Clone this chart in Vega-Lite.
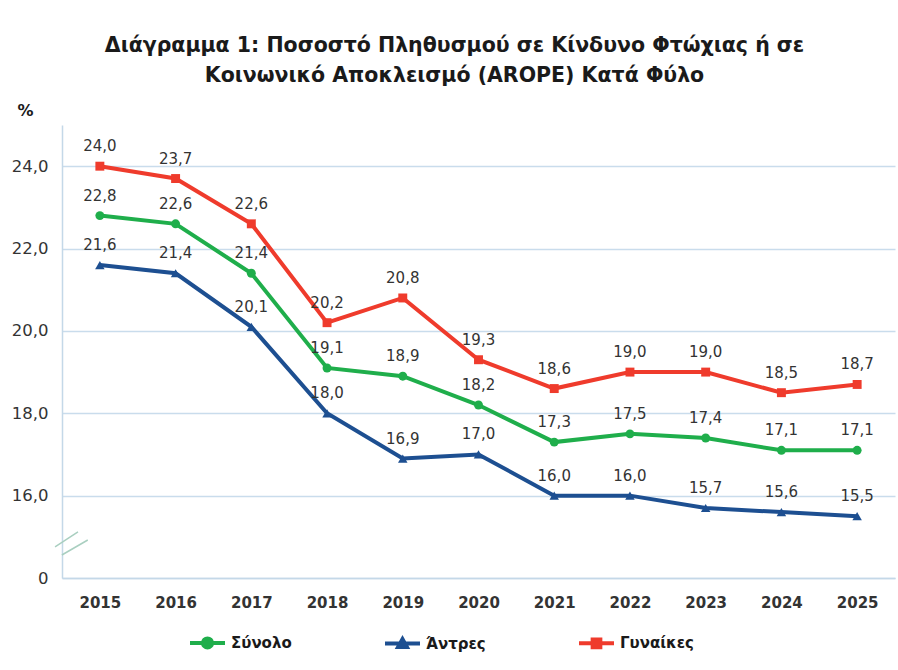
{
  "$schema": "https://vega.github.io/schema/vega-lite/v6.json",
  "width": 833,
  "height": 453,
  "autosize": {"type": "none"},
  "padding": {"left": 62, "top": 125, "right": 3, "bottom": 92},
  "background": "white",
  "config": {
    "view": {"stroke": null},
    "font": "DejaVu Sans",
    "locale": {"number": {"decimal": ",", "thousands": ".", "grouping": [3], "currency": ["", " €"]}}
  },
  "title": {
    "text": ["Διάγραμμα 1: Ποσοστό Πληθυσμού σε Κίνδυνο Φτώχιας ή σε", "Κοινωνικό Αποκλεισμό (AROPE) Κατά Φύλο"],
    "font": "DejaVu Sans",
    "fontSize": 20.5,
    "fontWeight": "bold",
    "color": "#1a1a1a",
    "lineHeight": 30,
    "anchor": "middle",
    "dx": -24,
    "offset": 16
  },
  "datasets": {
    "series": [
      {"year": "2015", "group": "Σύνολο", "value": 22.8},
      {"year": "2016", "group": "Σύνολο", "value": 22.6},
      {"year": "2017", "group": "Σύνολο", "value": 21.4},
      {"year": "2018", "group": "Σύνολο", "value": 19.1},
      {"year": "2019", "group": "Σύνολο", "value": 18.9},
      {"year": "2020", "group": "Σύνολο", "value": 18.2},
      {"year": "2021", "group": "Σύνολο", "value": 17.3},
      {"year": "2022", "group": "Σύνολο", "value": 17.5},
      {"year": "2023", "group": "Σύνολο", "value": 17.4},
      {"year": "2024", "group": "Σύνολο", "value": 17.1},
      {"year": "2025", "group": "Σύνολο", "value": 17.1},
      {"year": "2015", "group": "Άντρες", "value": 21.6},
      {"year": "2016", "group": "Άντρες", "value": 21.4},
      {"year": "2017", "group": "Άντρες", "value": 20.1},
      {"year": "2018", "group": "Άντρες", "value": 18.0},
      {"year": "2019", "group": "Άντρες", "value": 16.9},
      {"year": "2020", "group": "Άντρες", "value": 17.0},
      {"year": "2021", "group": "Άντρες", "value": 16.0},
      {"year": "2022", "group": "Άντρες", "value": 16.0},
      {"year": "2023", "group": "Άντρες", "value": 15.7},
      {"year": "2024", "group": "Άντρες", "value": 15.6},
      {"year": "2025", "group": "Άντρες", "value": 15.5},
      {"year": "2015", "group": "Γυναίκες", "value": 24.0},
      {"year": "2016", "group": "Γυναίκες", "value": 23.7},
      {"year": "2017", "group": "Γυναίκες", "value": 22.6},
      {"year": "2018", "group": "Γυναίκες", "value": 20.2},
      {"year": "2019", "group": "Γυναίκες", "value": 20.8},
      {"year": "2020", "group": "Γυναίκες", "value": 19.3},
      {"year": "2021", "group": "Γυναίκες", "value": 18.6},
      {"year": "2022", "group": "Γυναίκες", "value": 19.0},
      {"year": "2023", "group": "Γυναίκες", "value": 19.0},
      {"year": "2024", "group": "Γυναίκες", "value": 18.5},
      {"year": "2025", "group": "Γυναίκες", "value": 18.7}
    ]
  },
  "layer": [
    {
      "data": {"name": "series"},
      "mark": {"type": "line", "strokeWidth": 4},
      "encoding": {
        "x": {
          "field": "year", "type": "ordinal",
          "scale": {"type": "point", "padding": 0.5},
          "axis": {
            "title": null, "labelAngle": 0, "ticks": false,
            "domainColor": "#c4d8e8", "domainWidth": 1.5,
            "labelFont": "DejaVu Sans", "labelFontSize": 15, "labelFontWeight": "bold",
            "labelColor": "#333333", "labelPadding": 17, "grid": false
          }
        },
        "y": {
          "field": "value", "type": "quantitative",
          "scale": {"domain": [14, 25], "nice": false, "zero": false},
          "axis": {
            "values": [14, 16, 18, 20, 22, 24],
            "labelExpr": "datum.value == 14 ? '0' : format(datum.value, '.1f')",
            "ticks": false, "domainColor": "#c4d8e8", "domainWidth": 1.5,
            "grid": true, "gridColor": "#c9dcec", "gridWidth": 1.5,
            "labelFont": "DejaVu Sans", "labelFontSize": 16.5, "labelColor": "#333333",
            "labelPadding": 14,
            "title": "%", "titleAngle": 0, "titleFont": "DejaVu Sans", "titleFontSize": 16,
            "titleFontWeight": "bold", "titleColor": "#1a1a1a",
            "titleX": -37, "titleY": -15, "titleAlign": "center", "titleBaseline": "middle"
          }
        },
        "color": {
          "field": "group", "type": "nominal",
          "scale": {"domain": ["Σύνολο", "Άντρες", "Γυναίκες"], "range": ["#1fae4b", "#1d4f91", "#ef3b2c"]},
          "legend": {
            "title": null, "orient": "none", "direction": "horizontal",
            "legendX": 126, "legendY": 498,
            "columnPadding": 85, "labelFont": "DejaVu Sans", "labelFontSize": 15,
            "labelFontWeight": "bold", "labelColor": "#1a1a1a", "labelOffset": 4,
            "symbolSize": 1225,
            "encode": {
              "symbols": {
                "update": {
                  "shape": {"signal": "datum.value === 'Σύνολο' ? 'M-1,0L1,0M0.26,0A0.26,0.26 0 1,1 -0.26,0A0.26,0.26 0 1,1 0.26,0Z' : datum.value === 'Άντρες' ? 'M-1,0L1,0M-0.25,0.2L0,-0.25L0.25,0.2Z' : 'M-1,0L1,0M-0.22,-0.22L0.22,-0.22L0.22,0.22L-0.22,0.22Z'"},
                  "fill": {"signal": "scale('color', datum.value)"},
                  "stroke": {"signal": "scale('color', datum.value)"},
                  "strokeWidth": {"value": 4},
                  "size": {"value": 1225},
                  "opacity": {"value": 1}
                }
              }
            }
          }
        },
        "detail": {"field": "group"}
      }
    },
    {
      "data": {"name": "series"},
      "transform": [{"filter": "datum.group === 'Σύνολο'"}],
      "mark": {"type": "point", "filled": true, "opacity": 1, "size": 80, "shape": "circle"},
      "encoding": {
        "x": {"field": "year", "type": "ordinal"},
        "y": {"field": "value", "type": "quantitative"},
        "color": {"field": "group", "type": "nominal", "legend": null}
      }
    },
    {
      "data": {"name": "series"},
      "transform": [{"filter": "datum.group === 'Άντρες'"}],
      "mark": {"type": "point", "filled": true, "opacity": 1, "size": 90, "shape": "triangle-up"},
      "encoding": {
        "x": {"field": "year", "type": "ordinal"},
        "y": {"field": "value", "type": "quantitative"},
        "color": {"field": "group", "type": "nominal", "legend": null}
      }
    },
    {
      "data": {"name": "series"},
      "transform": [{"filter": "datum.group === 'Γυναίκες'"}],
      "mark": {"type": "point", "filled": true, "opacity": 1, "size": 80, "shape": "square"},
      "encoding": {
        "x": {"field": "year", "type": "ordinal"},
        "y": {"field": "value", "type": "quantitative"},
        "color": {"field": "group", "type": "nominal", "legend": null}
      }
    },
    {
      "data": {"name": "series"},
      "mark": {"type": "text", "dy": -20, "font": "DejaVu Sans", "fontSize": 15, "color": "#333333"},
      "encoding": {
        "x": {"field": "year", "type": "ordinal"},
        "y": {"field": "value", "type": "quantitative"},
        "text": {"field": "value", "type": "quantitative", "format": ".1f"}
      }
    },
    {
      "data": {"values": [{"year": "2015", "value": 14.85}]},
      "mark": {
        "type": "point", "filled": false, "strokeWidth": 1.5, "color": "#a9cfc0", "opacity": 1, "size": 1000,
        "shape": "M-1,0.25L0.45,-0.7M-0.57,0.76L1.07,-0.19"
      },
      "encoding": {
        "x": {"field": "year", "type": "ordinal"},
        "y": {"field": "value", "type": "quantitative"},
        "xOffset": {"value": -29}
      }
    }
  ]
}
